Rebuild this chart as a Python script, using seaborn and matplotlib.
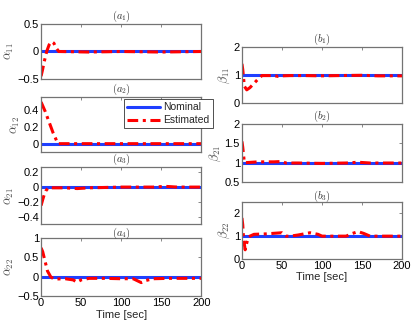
import matplotlib
matplotlib.use("Agg")
from matplotlib import pyplot as plt
import pandas as pd
import seaborn as sns

sns.set_style("white")
plt.rcParams['font.family'] = ['Liberation Sans', 'DejaVu Sans']
plt.rcParams['mathtext.fontset'] = 'cm'

# estimated parameter traces (time [sec], value)
t_a11 = [0, 2, 4, 7, 10, 13, 16, 19, 22, 60, 100, 150, 200]
v_a11 = [-0.45, -0.32, -0.18, 0.0, 0.12, 0.18, 0.15, 0.06, 0.0, -0.01, 0.0, -0.01, 0.0]

t_a12 = [0, 5, 10, 15, 21, 60, 120, 200]
v_a12 = [0.5, 0.39, 0.26, 0.13, 0.0, 0.0, 0.0, 0.0]

t_a21 = [0, 2, 4, 6, 9, 30, 45, 60, 100, 140, 155, 170, 200]
v_a21 = [-0.25, -0.17, -0.1, -0.05, -0.01, -0.01, -0.02, -0.01, 0.0, 0.0, 0.01, 0.0, 0.0]

t_a22 = [0, 2, 5, 8, 12, 16, 30, 40, 45, 50, 60, 80, 100, 115, 120, 125, 130, 140, 160, 200]
v_a22 = [0.75, 0.65, 0.4, 0.15, 0.0, -0.06, -0.05, -0.08, -0.14, -0.08, -0.04, -0.04,
         -0.05, -0.05, -0.1, -0.15, -0.1, -0.05, -0.04, -0.04]

t_b11 = [0, 1, 3, 6, 10, 15, 20, 25, 40, 45, 50, 60, 80, 100, 120, 150, 170, 200]
v_b11 = [1.4, 1.2, 0.6, 0.47, 0.55, 0.7, 0.85, 0.98, 0.98, 0.95, 0.97, 0.98, 0.98, 0.97,
         0.98, 0.99, 0.97, 0.97]

t_b21 = [0, 1, 3, 5, 20, 40, 50, 55, 70, 100, 130, 145, 160, 200]
v_b21 = [1.55, 1.4, 1.0, 1.0, 1.02, 1.02, 1.03, 0.99, 0.99, 0.98, 0.99, 1.01, 0.99, 0.99]

t_b22 = [0, 1, 2, 4, 6, 8, 10, 15, 30, 50, 55, 60, 70, 85, 95, 100, 130, 138, 145, 152, 160, 200]
v_b22 = [1.8, 1.5, 0.9, 0.4, 0.7, 0.95, 1.0, 1.08, 1.1, 1.15, 1.0, 1.0, 1.05, 1.15, 1.08,
         1.0, 1.0, 1.12, 1.2, 1.12, 1.0, 1.0]

nominal_a = 0.0
nominal_b = 1.0
time_ticks = [0, 50, 100, 150, 200]

blue = '#1f3fff'
red = '#ff0000'

fig = plt.figure(figsize=(4.15, 3.29), dpi=100)

panels = [
    # rect, t, v, nominal, ylim, yticks, ylabel, title
    ([0.099, 0.760, 0.386, 0.167], t_a11, v_a11, nominal_a, (-0.5, 0.5), [-0.5, 0, 0.5], r'$\alpha_{11}$', r'$(a_1)$'),
    ([0.099, 0.538, 0.386, 0.167], t_a12, v_a12, nominal_a, (-0.1, 0.56), [0, 0.2, 0.4], r'$\alpha_{12}$', r'$(a_2)$'),
    ([0.099, 0.319, 0.386, 0.173], t_a21, v_a21, nominal_a, (-0.5, 0.27), [-0.4, -0.2, 0, 0.2], r'$\alpha_{21}$', r'$(a_3)$'),
    ([0.099, 0.100, 0.386, 0.176], t_a22, v_a22, nominal_a, (-0.5, 1.0), [-0.5, 0, 0.5, 1], r'$\alpha_{22}$', r'$(a_4)$'),
    ([0.583, 0.687, 0.386, 0.170], t_b11, v_b11, nominal_b, (0, 2), [0, 1, 2], r'$\beta_{11}$', r'$(b_1)$'),
    ([0.583, 0.447, 0.386, 0.176], t_b21, v_b21, nominal_b, (0.5, 2), [0.5, 1, 1.5, 2], r'$\beta_{21}$', r'$(b_2)$'),
    ([0.583, 0.213, 0.386, 0.173], t_b22, v_b22, nominal_b, (0, 2.5), [0, 1, 2], r'$\beta_{22}$', r'$(b_3)$'),
]

bottom_axes = {3, 6}
for i, (rect, t, v, nom, ylim, yticks, ylab, title) in enumerate(panels):
    ax = fig.add_axes(rect)
    df = pd.DataFrame({'t': t, 'v': v})
    nom_df = pd.DataFrame({'t': [0, 200], 'v': [nom, nom]})
    sns.lineplot(data=nom_df, x='t', y='v', ax=ax, color=blue, linewidth=2.2, label='Nominal')
    sns.lineplot(data=df, x='t', y='v', ax=ax, color=red, linewidth=2.2,
                 dashes=False, label='Estimated')
    ax.lines[-1].set_dashes([3.5, 1.5, 1, 1.5])
    ax.set_xlim(0, 200)
    ax.set_ylim(*ylim)
    ax.set_xticks(time_ticks)
    ax.set_yticks(yticks)
    ax.set_yticklabels([('%g' % y).replace('-', '\u2212') for y in yticks])
    if i in bottom_axes:
        ax.set_xticklabels([str(x) for x in time_ticks])
        ax.set_xlabel('Time [sec]', fontsize=8, labelpad=1)
    else:
        ax.set_xticklabels([])
        ax.set_xlabel('')
    ax.set_ylabel(ylab, fontsize=9, color='0.3', labelpad=1)
    ax.set_title(title, fontsize=7.5, pad=2, color='0.2')
    ax.tick_params(direction='in', length=2.5, width=0.5, top=True, right=True,
                   labelsize=8, pad=1.5, colors='0.35', labelcolor='black')
    for sp in ax.spines.values():
        sp.set_color('0.45')
        sp.set_linewidth(0.9)
    if i == 1:
        leg = ax.legend(loc='upper right', bbox_to_anchor=(0.513, 0.699),
                        bbox_transform=fig.transFigure, fontsize=7.5, frameon=True,
                        fancybox=False, framealpha=1, edgecolor='0.2',
                        handlelength=3.2, handletextpad=0.3, borderpad=0.3,
                        labelspacing=0.3, borderaxespad=0)
        leg.get_frame().set_linewidth(0.6)
        leg.set_zorder(10)
    else:
        ax.get_legend().remove()

fig.savefig('out.png', dpi=100)
